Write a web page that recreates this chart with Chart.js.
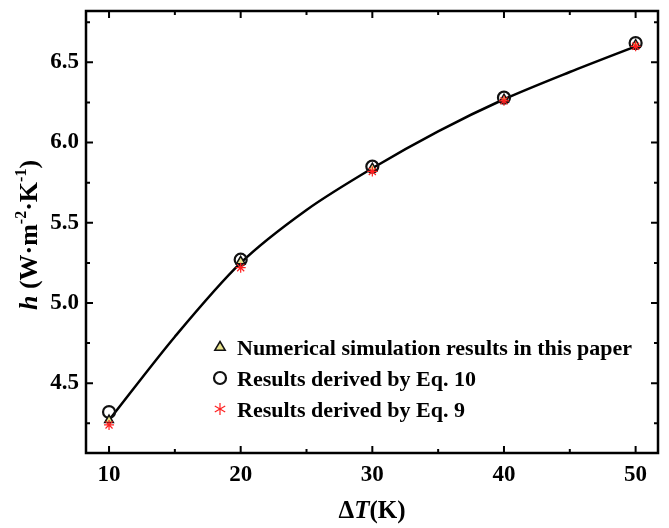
<!DOCTYPE html>
<html>
<head>
<meta charset="utf-8">
<script src="https://cdn.jsdelivr.net/npm/chart.js@4.4.0/dist/chart.umd.min.js"></script>
<style>
  html, body { margin: 0; padding: 0; background: #fff; }
  #wrap { width: 669px; height: 528px; position: relative; }
</style>
</head>
<body>
<div id="wrap"><canvas id="c"></canvas></div>
<script>
const deltaT = [10, 20, 30, 40, 50];
const numerical = [4.27, 5.26, 5.84, 6.27, 6.61];
const eq10 = [4.32, 5.27, 5.85, 6.28, 6.62];
const eq9 = [4.24, 5.22, 5.82, 6.26, 6.60];

// fitted curve
const fitT = [10, 15, 20, 25, 30, 35, 40, 45, 50];
const fitH = [4.27, 4.79, 5.25, 5.58, 5.84, 6.07, 6.27, 6.44, 6.60];

const xTicks = [10, 20, 30, 40, 50];
const xMinor = [15, 25, 35, 45];
const yTicks = [4.5, 5.0, 5.5, 6.0, 6.5];
const yMinor = [4.25, 4.75, 5.25, 5.75, 6.25, 6.75];

const legendItems = [
    { label: 'Numerical simulation results in this paper', marker: 'triangle' },
    { label: 'Results derived by Eq. 10', marker: 'circle' },
    { label: 'Results derived by Eq. 9', marker: 'star' }
];

const SERIF = '"Liberation Serif", "Times New Roman", serif';
const toXY = (xs, ys) => xs.map((x, i) => ({ x: x, y: ys[i] }));

function drawMarker(ctx, type, x, y) {
    ctx.save();
    if (type === 'triangle') {
        const r = 5.5;
        ctx.beginPath();
        ctx.moveTo(x, y - r);
        ctx.lineTo(x + r * 0.95, y + r * 0.6);
        ctx.lineTo(x - r * 0.95, y + r * 0.6);
        ctx.closePath();
        ctx.fillStyle = '#e9e38c';
        ctx.fill();
        ctx.lineWidth = 1.5;
        ctx.strokeStyle = '#111';
        ctx.stroke();
    } else if (type === 'circle') {
        ctx.beginPath();
        ctx.arc(x, y, 6, 0, Math.PI * 2);
        ctx.lineWidth = 2.2;
        ctx.strokeStyle = '#111';
        ctx.stroke();
    } else {
        ctx.strokeStyle = '#ff2020';
        ctx.lineWidth = 1.2;
        const r = 6;
        for (let k = 0; k < 3; k++) {
            const a = Math.PI / 2 + k * Math.PI / 3;
            ctx.beginPath();
            ctx.moveTo(x - r * Math.cos(a), y - r * Math.sin(a));
            ctx.lineTo(x + r * Math.cos(a), y + r * Math.sin(a));
            ctx.stroke();
        }
    }
    ctx.restore();
}

// draws text pieces one after another, each with its own font and offset
function drawRuns(ctx, runs, x, y) {
    let total = 0;
    runs.forEach(r => { ctx.font = r.font; total += ctx.measureText(r.text).width; });
    let cx = x - total / 2;
    runs.forEach(r => {
        ctx.font = r.font;
        ctx.fillText(r.text, cx, y + (r.dy || 0));
        cx += ctx.measureText(r.text).width;
    });
}

const framePlugin = {
    id: 'frame',
    afterDatasetsDraw(chart) {
        const { ctx, chartArea: a, scales } = chart;
        ctx.save();
        ctx.strokeStyle = '#000';
        ctx.lineWidth = 2.5;
        ctx.strokeRect(a.left, a.top, a.right - a.left, a.bottom - a.top);
        ctx.lineWidth = 2;
        const tick = (vals, len) => {
            vals.forEach(v => {
                const px = scales.x.getPixelForValue(v);
                ctx.beginPath();
                ctx.moveTo(px, a.bottom); ctx.lineTo(px, a.bottom - len);
                ctx.moveTo(px, a.top); ctx.lineTo(px, a.top + len);
                ctx.stroke();
            });
        };
        const ytick = (vals, len) => {
            vals.forEach(v => {
                const py = scales.y.getPixelForValue(v);
                ctx.beginPath();
                ctx.moveTo(a.left, py); ctx.lineTo(a.left + len, py);
                ctx.moveTo(a.right, py); ctx.lineTo(a.right - len, py);
                ctx.stroke();
            });
        };
        tick(xTicks, 7); tick(xMinor, 4);
        ytick(yTicks, 7); ytick(yMinor, 4);
        ctx.restore();
    },
    afterDraw(chart) {
        const { ctx } = chart;
        ctx.save();
        ctx.fillStyle = '#000';
        ctx.textBaseline = 'alphabetic';
        // legend
        legendItems.forEach((item, i) => {
            const y = 347 + i * 31;
            drawMarker(ctx, item.marker, 220, y);
            ctx.font = 'bold 22px ' + SERIF;
            ctx.textAlign = 'left';
            ctx.fillText(item.label, 237, y + 8);
        });
        ctx.textAlign = 'left';
        // x title
        drawRuns(ctx, [
            { text: 'Δ', font: 'bold 25px ' + SERIF },
            { text: 'T', font: 'italic bold 25px ' + SERIF },
            { text: '(K)', font: 'bold 25px ' + SERIF }
        ], 372, 518);
        // y title
        ctx.translate(37, 235);
        ctx.rotate(-Math.PI / 2);
        drawRuns(ctx, [
            { text: 'h', font: 'italic bold 26px ' + SERIF },
            { text: ' (W·m', font: 'bold 26px ' + SERIF },
            { text: '-2', font: 'bold 16px ' + SERIF, dy: -11 },
            { text: '·K', font: 'bold 26px ' + SERIF },
            { text: '-1', font: 'bold 16px ' + SERIF, dy: -11 },
            { text: ')', font: 'bold 26px ' + SERIF }
        ], 0, 0);
        ctx.restore();
    }
};

new Chart(document.getElementById('c'), {
    type: 'scatter',
    data: {
        datasets: [
            {
                label: 'fit',
                type: 'line',
                data: toXY(fitT, fitH),
                borderColor: '#000',
                borderWidth: 2.5,
                pointRadius: 0,
                tension: 0.3,
                fill: false,
                order: 4
            },
            {
                label: 'Results derived by Eq. 10',
                data: toXY(deltaT, eq10),
                pointStyle: 'circle',
                pointRadius: 6,
                borderWidth: 2.2,
                borderColor: '#111',
                backgroundColor: 'rgba(0,0,0,0)',
                order: 3
            },
            {
                label: 'Numerical simulation results in this paper',
                data: toXY(deltaT, numerical),
                pointStyle: 'triangle',
                pointRadius: 5,
                borderWidth: 1.5,
                borderColor: '#111',
                backgroundColor: '#e9e38c',
                order: 2
            },
            {
                label: 'Results derived by Eq. 9',
                data: toXY(deltaT, eq9),
                pointStyle: 'star',
                pointRadius: 5,
                borderWidth: 1.2,
                borderColor: '#ff2020',
                backgroundColor: '#ff2020',
                order: 1
            }
        ]
    },
    options: {
        responsive: true,
        maintainAspectRatio: false,
        animation: false,
        layout: { padding: { top: 11, right: 11, left: 0, bottom: 0 } },
        plugins: {
            legend: { display: false },
            tooltip: { enabled: false }
        },
        scales: {
            x: {
                type: 'linear',
                min: 8.25,
                max: 51.7,
                afterBuildTicks: (s) => { s.ticks = xTicks.map(v => ({ value: v })); },
                afterFit: (s) => { s.height = 75; s.paddingLeft = 0; s.paddingRight = 0; },
                grid: { display: false, drawTicks: false },
                border: { display: false },
                ticks: {
                    color: '#000',
                    padding: 8,
                    font: { family: SERIF, size: 23, weight: 'bold' },
                    callback: (v) => String(v)
                }
            },
            y: {
                type: 'linear',
                min: 4.065,
                max: 6.82,
                afterBuildTicks: (s) => { s.ticks = yTicks.map(v => ({ value: v })); },
                afterFit: (s) => { s.width = 86; s.paddingTop = 0; s.paddingBottom = 0; },
                grid: { display: false, drawTicks: false },
                border: { display: false },
                ticks: {
                    color: '#000',
                    padding: 7,
                    font: { family: SERIF, size: 23, weight: 'bold' },
                    callback: (v) => v.toFixed(1)
                }
            }
        }
    },
    plugins: [framePlugin]
});
</script>
</body>
</html>
